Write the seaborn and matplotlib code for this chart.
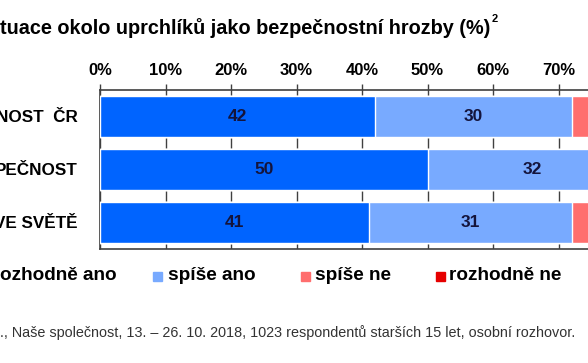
import matplotlib
matplotlib.use("Agg")
import matplotlib.pyplot as plt
import seaborn as sns
import numpy as np
import pandas as pd

categories = ["NOST  ČR", "PEČNOST", "VE SVĚTĚ"]
series_names = ["rozhodně ano", "spíše ano", "spíše ne", "rozhodně ne"]
legend_labels = ["ozhodně ano", "spíše ano", "spíše ne", "rozhodně ne"]
rozhodne_ano = [42, 50, 41]
spise_ano = [30, 32, 31]
spise_ne = [18, 13, 19]
rozhodne_ne = [5, 3, 5]
tick_labels = ["0%", "10%", "20%", "30%", "40%", "50%", "60%", "70%", "80%", "90%", "100%"]
title_text = "tuace okolo uprchlíků jako bezpečnostní hrozby (%)"
footnote = "., Naše společnost, 13. – 26. 10. 2018, 1023 respondentů starších 15 let, osobní rozhovor."

colors = ["#0064FF", "#78AAFF", "#FF6E6E", "#E60000"]

sns.set_style("white")
plt.rcParams["font.family"] = ["Liberation Sans", "DejaVu Sans"]
plt.rcParams["text.color"] = "black"
plt.rcParams["xtick.labelcolor"] = "black"
plt.rcParams["ytick.labelcolor"] = "black"

W, H = 588, 363
fig = plt.figure(figsize=(W / 100, H / 100), dpi=100)
ax = fig.add_axes([100 / W, 1 - 249 / H, 655 / W, (249 - 89.5) / H])

values = [rozhodne_ano, spise_ano, spise_ne, rozhodne_ne]
cum = np.cumsum(np.array(values, dtype=float), axis=0)

# draw from the last (total) to first so earlier segments overlay
for i in range(len(values) - 1, -1, -1):
    df = pd.DataFrame({"cat": categories, "val": cum[i]})
    sns.barplot(data=df, x="val", y="cat", orient="h", color=colors[i],
                width=0.77, ax=ax, saturation=1, zorder=3)

# segment labels
for i, vals in enumerate(values):
    starts = cum[i] - np.array(vals)
    for j, v in enumerate(vals):
        ax.text(starts[j] + v / 2, j, str(v), ha="center", va="center",
                fontsize=12.5, fontweight="bold", color="#14143C", zorder=5)

ax.set_xlim(0, 100)
ax.set_ylim(2.5, -0.5)
ax.set_xticks(np.arange(0, 101, 10))
ax.set_xticklabels(tick_labels, fontsize=12, fontweight="bold")
ax.xaxis.tick_top()
ax.xaxis.set_label_position("top")
ax.set_xlabel("")
ax.set_ylabel("")
ax.grid(axis="x", color="#404040", linewidth=1.0, zorder=0)
ax.set_axisbelow(True)
ax.tick_params(axis="x", which="both", length=4, width=1, color="#404040", pad=4, top=True, bottom=False)

# y: labels at categories, ticks at boundaries
ax.set_yticks(range(len(categories)))
ax.set_yticklabels(categories, fontsize=12.3, fontweight="bold")
ax.tick_params(axis="y", length=0, pad=16)
ax.set_yticks([0.5, 1.5], minor=True)
ax.tick_params(axis="y", which="minor", length=4, width=1, color="#404040")

for s in ["top", "bottom", "left"]:
    ax.spines[s].set_visible(True)
    ax.spines[s].set_color("#404040")
    ax.spines[s].set_linewidth(1.2)
ax.spines["right"].set_visible(False)
if ax.get_legend():
    ax.get_legend().remove()

# title
fig.text(0, 1 - 28 / H, title_text, fontsize=14.3, fontweight="bold", va="center", ha="left")
fig.text(492 / W, 1 - 19 / H, "2", fontsize=8, fontweight="bold", va="center", ha="left")

# legend
leg_y = 1 - 276 / H
text_x = [0, 168, 315, 449]
mark_x = [None, 153, 301, 436]
for k in range(4):
    if k > 0:
        fig.patches.append(plt.Rectangle((mark_x[k] / W, leg_y - 4.5 / H), 9 / W, 9 / H,
                                         transform=fig.transFigure, color=colors[k], figure=fig))
    fig.text(text_x[k] / W, leg_y, legend_labels[k], fontsize=13.7, fontweight="bold",
             va="center", ha="left")

fig.text(0, 1 - 333 / H, footnote, fontsize=10.35, color="#333333", va="center", ha="left")

fig.savefig("out.png", dpi=100)
